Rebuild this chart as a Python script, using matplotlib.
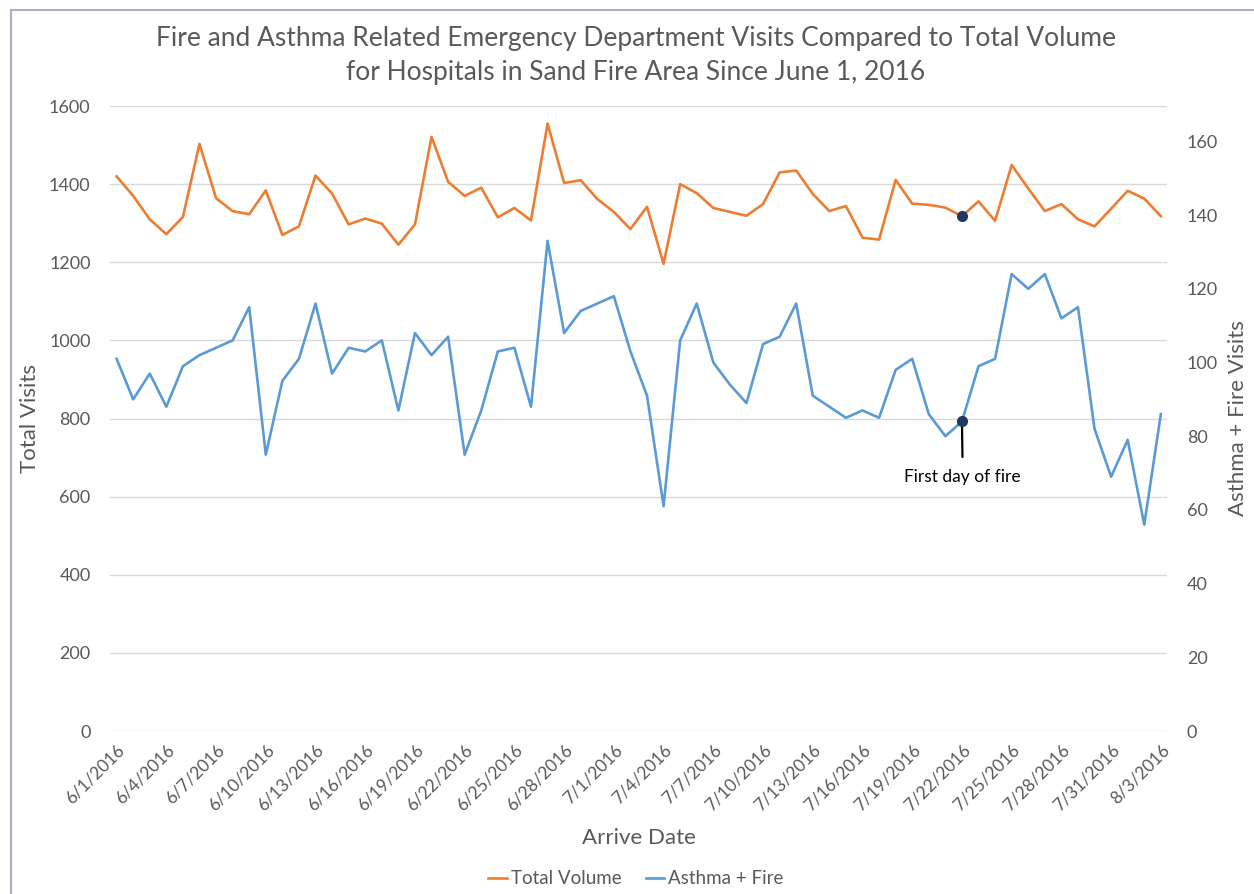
import numpy as np
import pandas as pd
import matplotlib
matplotlib.use('Agg')
import matplotlib.pyplot as plt
from matplotlib.patches import Rectangle

plt.rcParams['font.family'] = ['Lato', 'DejaVu Sans']

# Daily values, 6/1/2016 - 8/3/2016
dates = pd.date_range('2016-06-01', '2016-08-03', freq='D')
date_labels = [f'{d.month}/{d.day}/{d.year}' for d in dates]

total_volume = [1420, 1370, 1310, 1272, 1316, 1503, 1364, 1331, 1323, 1384,
                1270, 1292, 1422, 1376, 1297, 1312, 1299, 1245, 1297, 1521,
                1406, 1370, 1391, 1315, 1339, 1307, 1555, 1403, 1410, 1362,
                1329, 1285, 1342, 1196, 1400, 1377, 1339, 1329, 1319, 1349,
                1430, 1435, 1375, 1331, 1344, 1263, 1258, 1411, 1350, 1347,
                1340, 1318, 1356, 1306, 1449, 1389, 1331, 1349, 1310, 1292,
                1337, 1383, 1363, 1318]

asthma_fire = [101, 90, 97, 88, 99, 102, 104, 106, 115, 75,
               95, 101, 116, 97, 104, 103, 106, 87, 108, 102,
               107, 75, 87, 103, 104, 88, 133, 108, 114, 116,
               118, 103, 91, 61, 106, 116, 100, 94, 89, 105,
               107, 116, 91, 88, 85, 87, 85, 98, 101, 86,
               80, 84, 99, 101, 124, 120, 124, 112, 115, 82,
               69, 79, 56, 86]

fire_start = '7/22/2016'

orange = '#ED7D31'
blue = '#5B9BD5'
navy = '#1F3864'
grey = '#595959'

x = np.arange(len(dates))
fire_idx = date_labels.index(fire_start)

fig = plt.figure(figsize=(12.54, 8.94), dpi=100)
ax = fig.add_axes([0.0877, 0.1823, 0.8433, 0.6991])
ax2 = ax.twinx()

l1, = ax.plot(x, total_volume, color=orange, lw=1.9, label='Total Volume')
l2, = ax2.plot(x, asthma_fire, color=blue, lw=1.9, label='Asthma + Fire')
ax.plot(x[fire_idx], total_volume[fire_idx], 'o', color=navy, ms=7, zorder=5)
ax2.plot(x[fire_idx], asthma_fire[fire_idx], 'o', color=navy, ms=7, zorder=5)

ax2.annotate('First day of fire', xy=(x[fire_idx], asthma_fire[fire_idx]),
             xytext=(x[fire_idx] + 0.05, 68.8), ha='center', va='center',
             fontsize=12.5, color='black',
             arrowprops=dict(arrowstyle='-', color='black', lw=1.6,
                             shrinkA=7, shrinkB=4))

ax.set_xlim(-0.4, len(x) - 0.6)
ax.set_ylim(0, 1600)
ax.set_yticks(range(0, 1601, 200))
ax2.set_ylim(0, 169.6)
ax2.set_yticks(range(0, 161, 20))

ax.set_xticks(x[::3])
ax.set_xticklabels(date_labels[::3], rotation=45, ha='right',
                   rotation_mode='anchor', fontsize=12.5, color=grey)
ax.grid(axis='y', color='#D9D9D9', lw=1)
ax.set_axisbelow(True)

for a in (ax, ax2):
    for s in a.spines.values():
        s.set_visible(False)
    a.tick_params(length=0, labelsize=13, colors=grey)
ax.tick_params(axis='y', pad=14)
ax2.tick_params(axis='y', pad=14)
ax.tick_params(axis='x', pad=8, labelsize=12.5)

ax.set_ylabel('Total Visits', fontsize=16, color=grey)
ax.yaxis.set_label_coords(-0.066, 0.5)
ax2.set_ylabel('Asthma + Fire Visits', fontsize=16, color=grey)
ax2.yaxis.set_label_coords(1.057, 0.5)
ax.set_xlabel('Arrive Date', fontsize=16, color=grey, labelpad=10)

fig.text(0.507, 0.957, 'Fire and Asthma Related Emergency Department Visits Compared to Total Volume',
         ha='center', va='center', fontsize=19, color=grey)
fig.text(0.507, 0.919, 'for Hospitals in Sand Fire Area Since June 1, 2016',
         ha='center', va='center', fontsize=19, color=grey)

fig.legend(handles=[l1, l2], loc='center', bbox_to_anchor=(0.507, 0.017),
           ncol=2, frameon=False, fontsize=13.5, handlelength=1.0,
           handletextpad=0.2, columnspacing=1.3, labelcolor=grey)

# chart border
fig.patches.append(Rectangle((11 / 1254, -0.05), 1.1, 1 - 10 / 894 + 0.05,
                             transform=fig.transFigure, fill=False,
                             edgecolor='#A6AFC3', lw=1.5))

fig.savefig('out.png', dpi=100)
